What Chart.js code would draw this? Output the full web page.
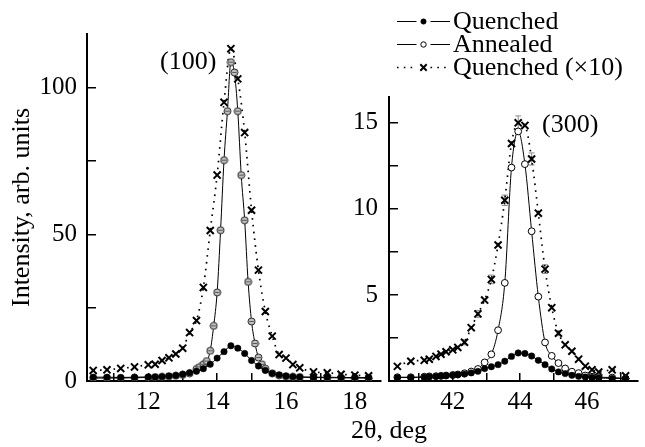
<!DOCTYPE html>
<html>
<head>
<meta charset="utf-8">
<script src="https://cdn.jsdelivr.net/npm/chart.js@4.4.1/dist/chart.umd.min.js"></script>
<style>
  html, body { margin: 0; padding: 0; background: #fff; }
  #wrap { position: relative; width: 645px; height: 447px; overflow: hidden; }
  #left-box { position: absolute; left: 0; top: 0; width: 388px; height: 447px; }
  #right-box { position: absolute; left: 340px; top: 0; width: 305px; height: 447px; }
</style>
</head>
<body>
<div id="wrap">
  <div id="left-box"><canvas id="chart-left"></canvas></div>
  <div id="right-box"><canvas id="chart-right"></canvas></div>
</div>
<script>
// ─── Data ──────────────────────────────────────────────────────

// (100) reflection, left panel
const leftAngles = [10.4, 10.8, 11.2, 11.6, 12.0, 12.2, 12.4, 12.6, 12.8, 13.0, 13.2, 13.4, 13.6, 13.8,
    14.0, 14.2, 14.4, 14.6, 14.8, 15.0, 15.2, 15.4, 15.6, 15.8, 16.0, 16.2, 16.4, 16.8, 17.2, 17.6, 18.0, 18.4];
const leftQuenched = [1.3, 1.3, 1.2, 1.3, 1.4, 1.4, 1.5, 1.7, 1.9, 2.3, 2.8, 3.3, 4.2, 5.7,
    7.8, 10.0, 12.0, 11.2, 9.4, 7.0, 5.1, 3.6, 2.6, 2.1, 1.7, 1.5, 1.4, 1.3, 1.3, 1.2, 1.2, 1.2];
const leftQuenchedX10 = [3.6, 3.8, 4.3, 4.8, 5.5, 5.7, 7.0, 7.9, 9.2, 11.2, 16.5, 20.6, 31.9, 51.3,
    70.2, 95.0, 113.3, 103.0, 84.7, 58.2, 37.8, 23.7, 15.3, 9.0, 7.8, 5.6, 4.5, 3.1, 2.8, 2.3, 2.0, 1.8];
const leftAnnealedAngles = [10.4, 10.8, 11.2, 11.6, 12.0, 12.2, 12.4, 12.6, 12.8, 13.0, 13.2,
    13.4, 13.5, 13.6, 13.7, 13.8, 13.9, 14.0, 14.1, 14.2, 14.3, 14.4, 14.5, 14.6, 14.7, 14.8, 14.9,
    15.0, 15.1, 15.2, 15.3, 15.4, 15.6, 15.8, 16.0, 16.2, 16.4, 16.8, 17.2, 17.6, 18.0, 18.4];
const leftAnnealed = [1.0, 1.0, 1.0, 1.1, 1.2, 1.3, 1.4, 1.6, 1.8, 2.1, 2.6,
    4.1, 4.8, 5.7, 6.8, 10.3, 18.8, 30.2, 51.4, 75.3, 92.0, 108.7, 105.2, 92.0, 70.2, 54.8, 33.8,
    20.3, 12.8, 8.0, 5.7, 4.2, 2.6, 1.9, 1.6, 1.4, 1.3, 1.2, 1.1, 1.1, 1.0, 1.0];

// (300) reflection, right panel
const rightAngles = [40.35, 40.75, 41.15, 41.3, 41.5, 41.65, 41.8, 42.0, 42.15, 42.35, 42.55, 42.75,
    42.95, 43.15, 43.35, 43.55, 43.75, 43.95, 44.15, 44.35, 44.55, 44.75, 44.95, 45.15, 45.35, 45.55,
    45.75, 45.95, 46.15, 46.35, 46.75, 47.15];
const rightQuenched = [0.2, 0.2, 0.22, 0.25, 0.27, 0.29, 0.31, 0.33, 0.36, 0.4, 0.47, 0.56,
    0.72, 0.83, 0.95, 1.15, 1.43, 1.63, 1.6, 1.45, 1.2, 0.95, 0.7, 0.53, 0.43, 0.33,
    0.27, 0.23, 0.2, 0.18, 0.15, 0.15];
const rightAnnealed = [0.22, 0.22, 0.25, 0.27, 0.28, 0.3, 0.32, 0.35, 0.38, 0.45, 0.55, 0.7,
    1.08, 1.55, 2.95, 5.7, 12.4, 14.5, 12.6, 8.7, 4.9, 2.24, 1.46, 1.04, 0.73, 0.54,
    0.46, 0.32, 0.25, 0.22, 0.2, 0.15];
const rightQuenchedX10 = [0.85, 1.15, 1.2, 1.27, 1.43, 1.56, 1.7, 1.81, 1.95, 2.25, 3.1, 3.9,
    4.7, 5.9, 7.9, 10.5, 13.8, 15.0, 14.85, 12.9, 9.75, 6.5, 4.26, 2.78, 2.1, 1.73,
    1.27, 0.86, 0.65, 0.52, 0.65, 0.3];
const rightQuenchedX10Err = [0, 0, 0, 0, 0, 0, 0, 0, 0, 0.15, 0, 0.2,
    0, 0.25, 0, 0.3, 0, 0.4, 0, 0.35, 0, 0.25, 0, 0.15, 0, 0,
    0, 0, 0, 0, 0, 0];

// Tick labels (ticks without a label are still drawn)
const leftXLabels = [12, 14, 16, 18];
const leftYLabels = [0, 50, 100];
const rightXLabels = [42, 44, 46];
const rightYLabels = [5, 10, 15];

const seriesNames = ['Quenched', 'Annealed', 'Quenched (\u00d710)'];

// ─── Styling helpers ───────────────────────────────────────────

const SERIF = '"Liberation Serif", "Times New Roman", serif';
Chart.defaults.font.family = SERIF;
Chart.defaults.color = '#000';

const pts = (xs, ys) => xs.map((x, i) => ({ x, y: ys[i] }));

// grey disc with a bar through it, as used for the annealed (100) points
function hatchedDisc() {
    const c = document.createElement('canvas');
    c.width = 9; c.height = 9;
    const g = c.getContext('2d');
    g.beginPath();
    g.arc(4.5, 4.5, 3.5, 0, Math.PI * 2);
    g.fillStyle = '#c2c2c2';
    g.fill();
    g.lineWidth = 1;
    g.strokeStyle = '#222';
    g.stroke();
    g.beginPath();
    g.moveTo(2.2, 4.5); g.lineTo(6.8, 4.5);
    g.strokeStyle = '#555';
    g.stroke();
    return c;
}

function axis(min, max, step, labels, side, fixedSize, padding, tickLen) {
    return {
        type: 'linear',
        min, max,
        ticks: {
            stepSize: step,
            includeBounds: false,
            autoSkip: false,
            maxRotation: 0,
            padding,
            font: { size: 25 },
            color: '#000',
            callback: v => labels.includes(v) ? String(v) : ''
        },
        grid: {
            drawOnChartArea: false,
            drawTicks: true,
            tickLength: tickLen,
            color: '#000',
            lineWidth: 1.5
        },
        border: { display: true, color: '#000', width: 2 },
        afterFit(scale) {
            if (side === 'x') scale.height = fixedSize;
            else scale.width = fixedSize;
        }
    };
}

const quenchedStyle = {
    showLine: true, borderColor: '#000', borderWidth: 1, cubicInterpolationMode: 'monotone',
    pointStyle: 'circle', pointRadius: 3.2, pointBackgroundColor: '#000',
    pointBorderColor: '#000', pointBorderWidth: 0.5
};
const x10Style = {
    showLine: true, borderColor: '#000', borderWidth: 1.7, borderDash: [1.6, 5.2],
    cubicInterpolationMode: 'monotone',
    pointStyle: 'crossRot', pointRadius: 5, pointBackgroundColor: '#000',
    pointBorderColor: '#000', pointBorderWidth: 2
};

// ─── Plugins ───────────────────────────────────────────────────

const peakLabel = {
    id: 'peakLabel',
    afterDatasetsDraw(chart, args, opts) {
        const { ctx, scales } = chart;
        ctx.save();
        ctx.font = '26px ' + SERIF;
        ctx.fillStyle = '#000';
        ctx.textAlign = 'center';
        ctx.textBaseline = 'middle';
        ctx.fillText(opts.text, scales.x.getPixelForValue(opts.x), scales.y.getPixelForValue(opts.y));
        ctx.restore();
    }
};

const errorBars = {
    id: 'errorBars',
    beforeDatasetsDraw(chart) {
        const { ctx, scales } = chart;
        ctx.save();
        ctx.strokeStyle = '#8a8a8a';
        ctx.lineWidth = 1;
        chart.data.datasets.forEach(ds => {
            if (!ds.errors) return;
            ds.data.forEach((p, i) => {
                const e = ds.errors[i];
                if (!e) return;
                const x = scales.x.getPixelForValue(p.x);
                const y0 = scales.y.getPixelForValue(p.y - e);
                const y1 = scales.y.getPixelForValue(p.y + e);
                ctx.beginPath();
                ctx.moveTo(x, y0); ctx.lineTo(x, y1);
                ctx.moveTo(x - 3, y0); ctx.lineTo(x + 3, y0);
                ctx.moveTo(x - 3, y1); ctx.lineTo(x + 3, y1);
                ctx.stroke();
            });
        });
        ctx.restore();
    }
};

// line-marker-line legend in the top right corner, plus the shared x title
const figureText = {
    id: 'figureText',
    afterDraw(chart, args, opts) {
        const ctx = chart.ctx;
        ctx.save();
        ctx.font = '26px ' + SERIF;
        ctx.fillStyle = '#000';
        ctx.textBaseline = 'middle';

        chart.data.datasets.forEach((ds, i) => {
            const y = opts.legendTop + i * opts.rowGap;
            const x0 = opts.legendLeft;
            const x1 = x0 + opts.sampleWidth;
            const xm = (x0 + x1) / 2;
            ctx.strokeStyle = '#000';
            ctx.lineWidth = ds.borderWidth;
            ctx.setLineDash(ds.borderDash || []);
            ctx.beginPath();
            ctx.moveTo(x0, y); ctx.lineTo(xm - 7, y);
            ctx.moveTo(xm + 7, y); ctx.lineTo(x1, y);
            ctx.stroke();
            ctx.setLineDash([]);
            ctx.fillStyle = ds.pointBackgroundColor;
            ctx.strokeStyle = ds.pointBorderColor;
            ctx.lineWidth = ds.pointBorderWidth;
            Chart.helpers.drawPoint(ctx, {
                pointStyle: ds.pointStyle, rotation: 0,
                radius: ds.pointStyle === 'crossRot' ? 4.5 : 2.7,
                borderWidth: ds.pointBorderWidth
            }, xm, y);
            ctx.fillStyle = '#000';
            ctx.textAlign = 'left';
            ctx.fillText(ds.label, x1 + 3, y + 1);
        });

        ctx.textAlign = 'center';
        ctx.fillText(opts.xTitle, opts.xTitleX, opts.xTitleY);
        ctx.restore();
    }
};

// ─── Charts ────────────────────────────────────────────────────

const leftChart = new Chart(document.getElementById('chart-left'), {
    type: 'scatter',
    data: {
        datasets: [
            { label: seriesNames[0], data: pts(leftAngles, leftQuenched), ...quenchedStyle },
            {
                label: seriesNames[1], data: pts(leftAnnealedAngles, leftAnnealed),
                showLine: true, borderColor: '#000', borderWidth: 1, cubicInterpolationMode: 'monotone',
                pointStyle: hatchedDisc(), pointRadius: 4
            },
            { label: seriesNames[2], data: pts(leftAngles, leftQuenchedX10), ...x10Style }
        ]
    },
    options: {
        responsive: true,
        maintainAspectRatio: false,
        animation: false,
        events: [],
        layout: { padding: { top: 16, right: 2, left: 0, bottom: 0 } },
        plugins: {
            legend: { display: false },
            tooltip: { enabled: false },
            peakLabel: { text: '(100)', x: 13.16, y: 108.6 }
        },
        scales: {
            x: axis(10.22, 18.76, 1, leftXLabels, 'x', 66, 14, -8),
            y: {
                ...axis(0, 118.3, 25, leftYLabels, 'y', 87, 19, -9),
                title: {
                    display: true,
                    text: 'Intensity, arb. units',
                    font: { size: 26 },
                    color: '#000',
                    padding: { top: 7, bottom: 0 }
                }
            }
        }
    },
    plugins: [peakLabel]
});

const rightChart = new Chart(document.getElementById('chart-right'), {
    type: 'scatter',
    data: {
        datasets: [
            { label: seriesNames[0], data: pts(rightAngles, rightQuenched), ...quenchedStyle },
            {
                label: seriesNames[1], data: pts(rightAngles, rightAnnealed),
                showLine: true, borderColor: '#000', borderWidth: 1, cubicInterpolationMode: 'monotone',
                pointStyle: 'circle', pointRadius: 3.4, pointBackgroundColor: '#fff',
                pointBorderColor: '#000', pointBorderWidth: 1
            },
            {
                label: seriesNames[2], data: pts(rightAngles, rightQuenchedX10), ...x10Style,
                errors: rightQuenchedX10Err
            }
        ]
    },
    options: {
        responsive: true,
        maintainAspectRatio: false,
        animation: false,
        events: [],
        layout: { padding: { top: 97, right: 0, left: 0, bottom: 0 } },
        plugins: {
            legend: { display: false },
            tooltip: { enabled: false },
            peakLabel: { text: '(300)', x: 45.5, y: 14.86 },
            figureText: {
                legendLeft: 57, legendTop: 21.5, rowGap: 23, sampleWidth: 53,
                xTitle: '2\u03b8, deg', xTitleX: 49, xTitleY: 431
            }
        },
        scales: {
            x: axis(40.1, 47.52, 1, rightXLabels, 'x', 66, 14, -8),
            y: axis(0, 16.5, 2.5, rightYLabels, 'y', 49, 20, -9)
        }
    },
    plugins: [peakLabel, errorBars, figureText]
});
</script>
</body>
</html>
